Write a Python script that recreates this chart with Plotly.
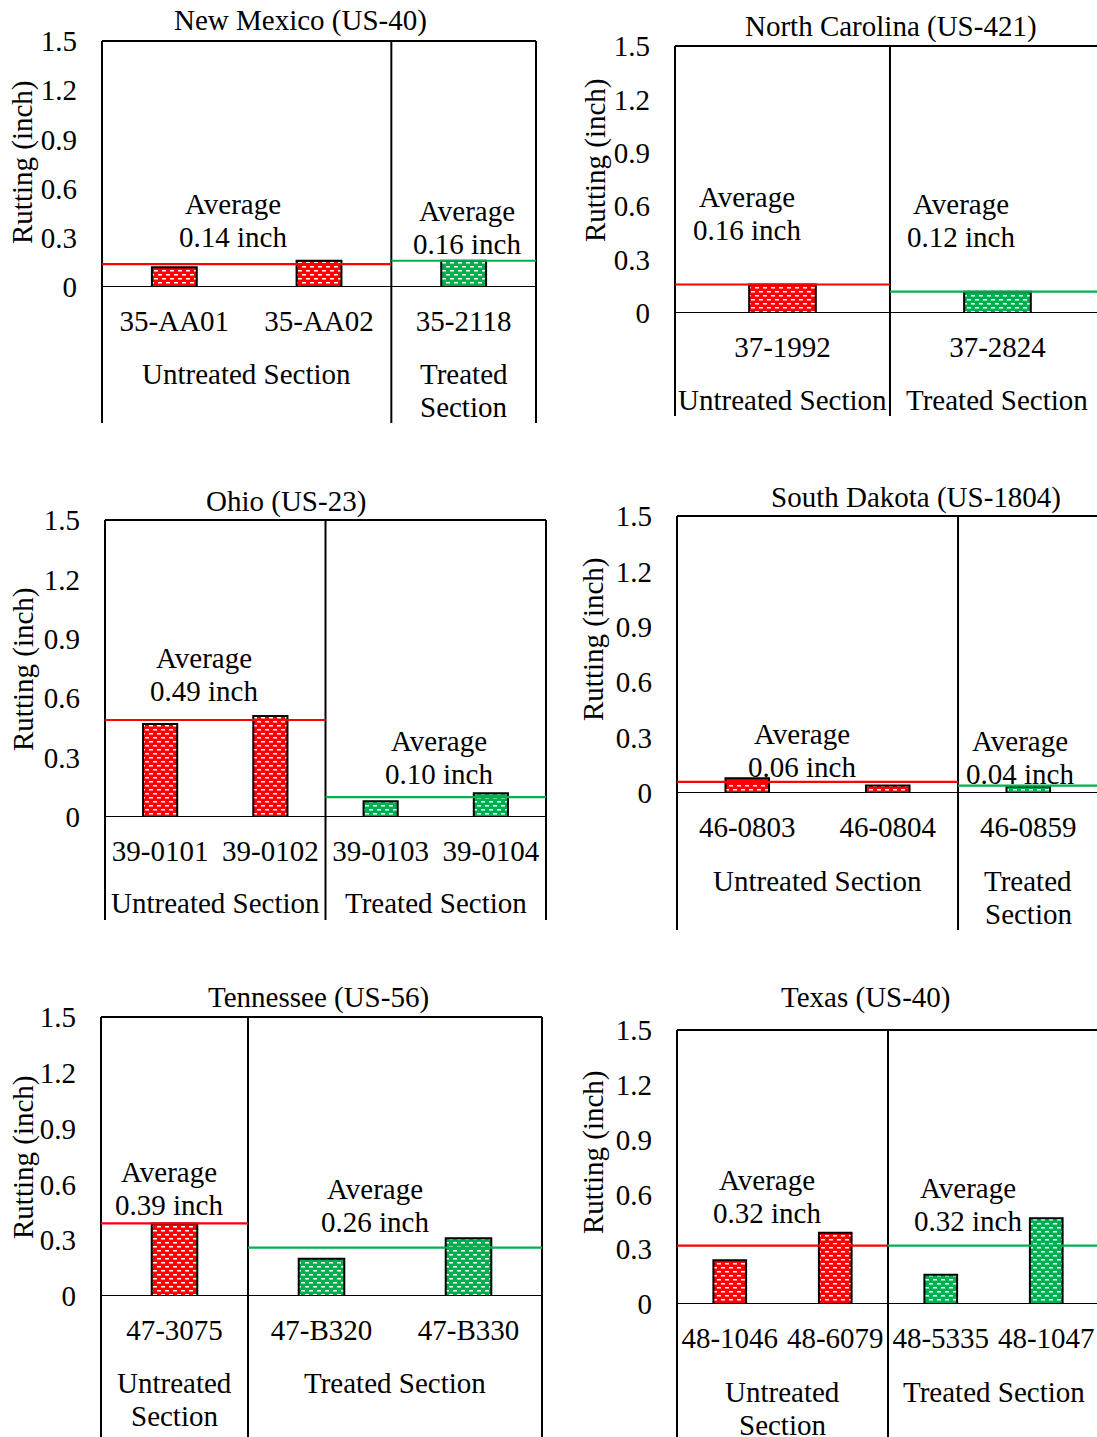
import plotly.graph_objects as go

W, H = 1097, 1437

# ---------------- data ----------------
nm_untreated_ids = ["35-AA01", "35-AA02"]
nm_untreated_rut = [0.12, 0.16]
nm_treated_ids = ["35-2118"]
nm_treated_rut = [0.16]
nm_avg = [0.14, 0.16]

nc_untreated_ids = ["37-1992"]
nc_untreated_rut = [0.16]
nc_treated_ids = ["37-2824"]
nc_treated_rut = [0.12]
nc_avg = [0.16, 0.12]

oh_untreated_ids = ["39-0101", "39-0102"]
oh_untreated_rut = [0.47, 0.51]
oh_treated_ids = ["39-0103", "39-0104"]
oh_treated_rut = [0.08, 0.12]
oh_avg = [0.49, 0.10]

sd_untreated_ids = ["46-0803", "46-0804"]
sd_untreated_rut = [0.08, 0.04]
sd_treated_ids = ["46-0859"]
sd_treated_rut = [0.035]
sd_avg = [0.06, 0.04]

tn_untreated_ids = ["47-3075"]
tn_untreated_rut = [0.39]
tn_treated_ids = ["47-B320", "47-B330"]
tn_treated_rut = [0.20, 0.31]
tn_avg = [0.39, 0.26]

tx_untreated_ids = ["48-1046", "48-6079"]
tx_untreated_rut = [0.24, 0.39]
tx_treated_ids = ["48-5335", "48-1047"]
tx_treated_rut = [0.16, 0.47]
tx_avg = [0.32, 0.32]

panel_titles = ["New Mexico (US-40)", "North Carolina (US-421)", "Ohio (US-23)",
                "South Dakota (US-1804)", "Tennessee (US-56)", "Texas (US-40)"]
untreated_labels = [["Untreated Section"], ["Untreated Section"], ["Untreated Section"],
                    ["Untreated Section"], ["Untreated", "Section"], ["Untreated", "Section"]]
treated_labels = [["Treated", "Section"], ["Treated Section"], ["Treated Section"],
                  ["Treated", "Section"], ["Treated Section"], ["Treated Section"]]
y_ticks = [0, 0.3, 0.6, 0.9, 1.2, 1.5]
y_tick_text = ["0", "0.3", "0.6", "0.9", "1.2", "1.5"]
y_title = "Rutting (inch)"

panels_data = [
    (nm_untreated_ids, nm_untreated_rut, nm_treated_ids, nm_treated_rut, nm_avg),
    (nc_untreated_ids, nc_untreated_rut, nc_treated_ids, nc_treated_rut, nc_avg),
    (oh_untreated_ids, oh_untreated_rut, oh_treated_ids, oh_treated_rut, oh_avg),
    (sd_untreated_ids, sd_untreated_rut, sd_treated_ids, sd_treated_rut, sd_avg),
    (tn_untreated_ids, tn_untreated_rut, tn_treated_ids, tn_treated_rut, tn_avg),
    (tx_untreated_ids, tx_untreated_rut, tx_treated_ids, tx_treated_rut, tx_avg),
]

# ---------------- layout geometry (pixels) ----------------
geom = [
    dict(left=102, right=536, top=41, bottom=287, ext=423, rvis=True, rend=None,
         title=(300, 20), ylab=(23, 162), avg=[(233, 204), (467, 211)], sec=374),
    dict(left=675, right=1097, top=46, bottom=313, ext=416, rvis=False, rend=1.463,
         title=(891, 26), ylab=(596, 160), avg=[(747, 197), (961, 204)], sec=400),
    dict(left=105, right=546, top=520, bottom=817, ext=920, rvis=True, rend=None,
         title=(286, 501), ylab=(23, 669), avg=[(204, 658), (439, 741)], sec=903),
    dict(left=677, right=1097, top=516, bottom=793, ext=930, rvis=False, rend=2.489,
         title=(916, 497), ylab=(593, 639), avg=[(802, 734), (1020, 741)], sec=881),
    dict(left=101, right=542, top=1017, bottom=1296, ext=1437, rvis=True, rend=None,
         title=(318, 997), ylab=(23, 1157), avg=[(169, 1172), (375, 1189)], sec=1383),
    dict(left=677, right=1097, top=1030, bottom=1304, ext=1437, rvis=False, rend=3.481,
         title=(866, 997), ylab=(593, 1152), avg=[(767, 1180), (968, 1188)], sec=1392),
]

RED = "#FF0000"
GREEN = "#00B050"
FONT = "Liberation Serif, Times New Roman, serif"
FS = 29
LINE_H = 33
BRICK = "M0,1H4V2.4H0Z M4,5H8V6.4H4Z"


def pxx(p):
    return p / W


def pxy(p):
    return 1 - p / H


fig = go.Figure()
shapes = []
annotations = []
layout_axes = {}

for i, ((u_ids, u_vals, t_ids, t_vals, avgs), g) in enumerate(zip(panels_data, geom)):
    k = "" if i == 0 else str(i + 1)
    xa, ya = "x" + k, "y" + k
    n_u, n_t = len(u_ids), len(t_ids)
    cats = u_ids + t_ids
    rend = g["rend"] if g["rend"] is not None else n_u + n_t - 0.5
    div = n_u - 0.5

    for ids, vals, col in ((u_ids, u_vals, RED), (t_ids, t_vals, GREEN)):
        fig.add_trace(go.Bar(
            x=ids, y=vals, xaxis=xa, yaxis=ya, width=0.31, showlegend=False,
            marker=dict(color=col, line=dict(color="black", width=2),
                        pattern=dict(path=BRICK, fgcolor="white", bgcolor=col,
                                     size=8, solidity=0.3, fillmode="replace")),
        ))

    layout_axes["xaxis" + k] = dict(
        domain=[pxx(g["left"]), pxx(g["right"])], range=[-0.5, rend], anchor=ya,
        type="category", categoryorder="array", categoryarray=cats,
        showgrid=False, zeroline=False, showline=False, ticks="", automargin=False,
        tickfont=dict(family=FONT, size=FS, color="black"), ticklabelstandoff=14,
        fixedrange=True,
    )
    layout_axes["yaxis" + k] = dict(
        domain=[pxy(g["bottom"]), pxy(g["top"])], range=[0, 1.5], anchor=xa,
        tickvals=y_ticks, ticktext=y_tick_text, automargin=False,
        showgrid=False, zeroline=False, showline=False, ticks="",
        tickfont=dict(family=FONT, size=FS, color="black"), ticklabelstandoff=24,
        fixedrange=True,
    )

    lw = dict(color="black", width=2)
    shapes.append(dict(type="line", xref="paper", yref="paper",
                       x0=pxx(g["left"]), x1=pxx(g["right"]), y0=pxy(g["top"]), y1=pxy(g["top"]), line=lw))
    shapes.append(dict(type="line", xref="paper", yref=ya,
                       x0=pxx(g["left"]), x1=pxx(g["right"]), y0=0, y1=0, line=lw))
    shapes.append(dict(type="line", xref="paper", yref="paper",
                       x0=pxx(g["left"]), x1=pxx(g["left"]), y0=pxy(g["top"]), y1=pxy(g["ext"]), line=lw))
    shapes.append(dict(type="line", xref=xa, yref="paper",
                       x0=div, x1=div, y0=pxy(g["top"]), y1=pxy(g["ext"]), line=lw))
    if g["rvis"]:
        shapes.append(dict(type="line", xref="paper", yref="paper",
                           x0=pxx(g["right"]), x1=pxx(g["right"]), y0=pxy(g["top"]), y1=pxy(g["ext"]), line=lw))
    shapes.append(dict(type="line", xref=xa, yref=ya, x0=-0.5, x1=div, y0=avgs[0], y1=avgs[0],
                       line=dict(color=RED, width=2.2), layer="above"))
    shapes.append(dict(type="line", xref=xa, yref=ya, x0=div, x1=rend, y0=avgs[1], y1=avgs[1],
                       line=dict(color=GREEN, width=2.2), layer="above"))

    tf = dict(family=FONT, size=FS, color="black")
    annotations.append(dict(text=panel_titles[i], xref="paper", yref="paper",
                            x=pxx(g["title"][0]), y=pxy(g["title"][1]),
                            xanchor="center", yanchor="middle", showarrow=False, font=tf))
    annotations.append(dict(text=y_title, xref="paper", yref="paper",
                            x=pxx(g["ylab"][0]), y=pxy(g["ylab"][1]), textangle=-90,
                            xanchor="center", yanchor="middle", showarrow=False, font=tf))
    for (ax_, ay_), val in zip(g["avg"], avgs):
        for j, line in enumerate(["Average", f"{val:.2f} inch"]):
            annotations.append(dict(text=line, xref="paper", yref="paper",
                                    x=pxx(ax_), y=pxy(ay_ + j * LINE_H),
                                    xanchor="center", yanchor="middle", showarrow=False, font=tf))
    u_center = (n_u - 1) / 2
    t_center = n_u + (n_t - 1) / 2
    for cx, lines in ((u_center, untreated_labels[i]), (t_center, treated_labels[i])):
        for j, line in enumerate(lines):
            annotations.append(dict(text=line, xref=xa, yref="paper",
                                    x=cx, y=pxy(g["sec"] + j * LINE_H),
                                    xanchor="center", yanchor="middle", showarrow=False, font=tf))

fig.update_layout(
    width=W, height=H, margin=dict(l=0, r=0, t=0, b=0, pad=0, autoexpand=False),
    paper_bgcolor="white", plot_bgcolor="white", barmode="overlay",
    shapes=shapes, annotations=annotations, showlegend=False,
    font=dict(family=FONT, size=FS, color="black"),
    **layout_axes,
)

fig.write_html("out.html", config={"displayModeBar": False},
               post_script="document.body.style.margin='0';document.body.style.overflow='hidden';")
